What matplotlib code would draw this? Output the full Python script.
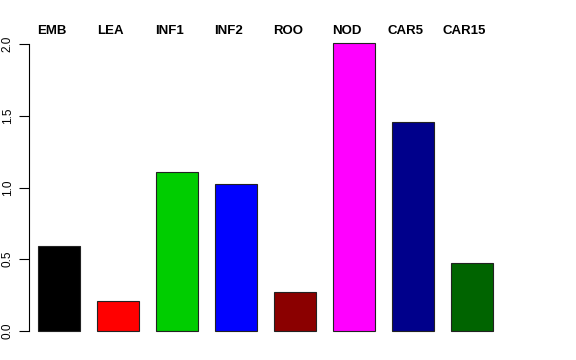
import matplotlib
matplotlib.use("Agg")
import matplotlib.pyplot as plt
import numpy as np

# --- data ---
categories = ["EMB", "LEA", "INF1", "INF2", "ROO", "NOD", "CAR5", "CAR15"]
values = [0.592, 0.211, 1.108, 1.024, 0.270, 2.007, 1.456, 0.474]
colors = ["#000000", "#FF0000", "#00CD00", "#0000FF",
          "#8B0000", "#FF00FF", "#00008B", "#006400"]

plt.rcParams["font.family"] = ["Liberation Sans", "DejaVu Sans"]

fig = plt.figure(figsize=(5.76, 3.6), dpi=100)
W, H = 576, 360
# plot region placed in pixels (R barplot style)
ax = fig.add_axes([29 / W, 17.5 / H, (540 - 29) / W, (328.5 - 17.5) / H])

x = 0.7 + 1.2 * np.arange(len(values))  # bar centres, step 1.2
ax.bar(x, values, width=0.85, color=colors, edgecolor="#222222", linewidth=0.8)

top = max(values)
ax.set_xlim((29 - 24.6) / 49.17, (540 - 24.6) / 49.17)
ax.set_ylim(-0.04 * top, 1.04 * top)

for s in ["top", "right", "bottom"]:
    ax.spines[s].set_visible(False)
ax.spines["left"].set_bounds(0, 2)
ax.spines["left"].set_linewidth(0.8)
ax.set_xticks([])
ax.set_yticks([0.0, 0.5, 1.0, 1.5, 2.0])
ax.set_yticklabels(["0.0", "0.5", "1.0", "1.5", "2.0"], rotation=90, va="center")
ax.tick_params(axis="y", length=7, width=0.8, labelsize=8.5, pad=4)

# category names just above the plot region
for xi, name in zip(x, categories):
    ax.annotate(name, (xi - 0.15, 1.0), xycoords=("data", "axes fraction"),
                xytext=(0, -1.8), textcoords="offset points",
                ha="center", va="baseline", fontsize=9.5, fontweight="bold",
                annotation_clip=False)

fig.savefig("out.png", dpi=100)
